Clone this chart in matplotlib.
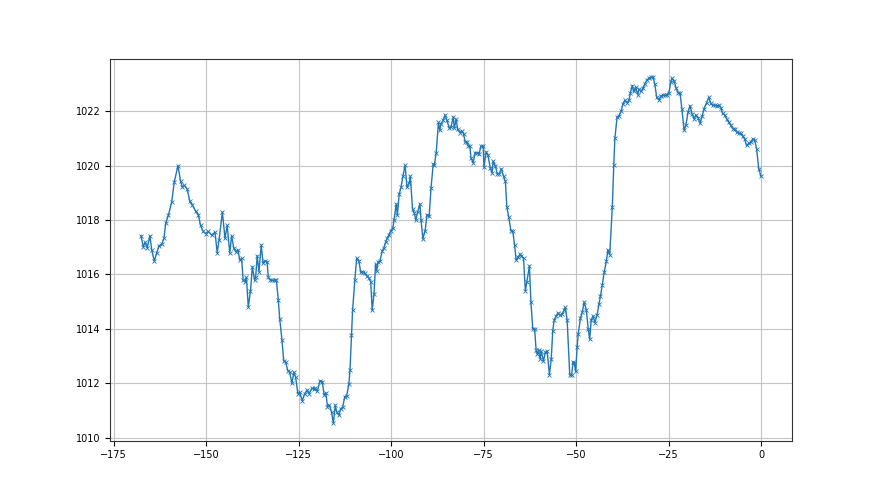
import matplotlib
matplotlib.use("Agg")
import matplotlib.pyplot as plt

# hours relative to now (negative = past)
hours = [
    -167.6, -167.0, -166.5, -165.9, -165.2, -164.7, -164.0, -163.4, -162.7, -162.0,
    -161.4, -160.9, -160.2, -159.3, -158.6, -157.6, -156.9, -156.4, -155.9, -155.1,
    -154.4, -153.7, -152.8, -152.1, -151.5, -150.8, -150.1, -149.4, -148.5, -147.6,
    -147.0, -146.5, -145.6, -144.9, -144.3, -143.6,
    -143.1, -142.5, -142.0, -141.4, -140.9, -140.4, -140.0, -139.5, -139.1, -138.6,
    -138.0, -137.5, -136.9, -136.6, -136.2, -135.7, -135.1, -134.6, -134.1, -133.5,
    -133.2, -132.6, -132.1, -131.5, -131.0, -130.5, -130.1, -129.5, -129.0, -128.5,
    -127.9, -127.4, -126.8, -126.3, -125.8, -125.2, -124.7, -124.0, -123.4, -122.7,
    -122.2, -121.4, -120.9,
    -120.6, -119.9, -119.2, -118.6, -118.1, -117.6, -117.2, -116.7, -116.1, -115.6,
    -115.1, -114.7, -114.1, -113.6, -113.1, -112.5, -112.0, -111.4, -111.1, -110.7,
    -110.4, -109.8, -109.3, -108.7, -108.2, -107.6, -107.1, -106.6, -106.0, -105.5,
    -105.1, -104.6, -104.2, -103.9, -103.5, -103.0, -102.4, -101.9, -101.5, -101.0,
    -100.6, -100.1, -99.5, -99.2, -98.6, -98.3, -97.8,
    -97.3, -96.8, -96.2, -95.7, -95.1, -94.8, -94.2, -93.7, -93.3, -92.8,
    -92.2, -91.9, -91.4, -90.8, -90.3, -89.7, -89.2, -88.6, -88.3, -87.8,
    -87.2, -86.8, -86.5, -85.9, -85.4, -84.9, -84.3, -83.8, -83.2, -82.9,
    -82.4, -82.0, -81.4, -80.9, -80.4, -80.0, -79.5, -79.1, -78.7, -78.4,
    -77.8, -77.3, -76.8, -76.2, -75.7, -75.1,
    -74.9, -74.3, -73.8, -73.2, -72.7, -72.4, -71.8, -71.3, -70.7, -70.2,
    -69.6, -69.1, -68.7, -68.2, -67.6, -67.1, -66.6, -66.2, -65.7, -65.1,
    -64.8, -64.2, -63.7, -63.3, -62.6, -62.2, -61.7, -61.2, -60.8, -60.5,
    -60.1, -59.7, -59.4, -58.8, -58.3, -57.8, -57.2, -56.7, -56.3, -55.9,
    -55.4, -54.9, -54.3, -53.8, -53.2, -52.9, -52.4,
    -51.7, -51.2, -50.8, -50.5, -50.1, -49.7, -49.4, -48.8, -48.3, -47.8,
    -47.2, -46.7, -46.3, -45.9, -45.4, -44.9, -44.3, -43.8, -43.4, -42.9,
    -42.4, -41.8, -41.4, -40.9, -40.2, -39.8, -39.5, -38.9, -38.4, -37.8,
    -37.3, -36.8, -36.2, -35.7, -35.3, -34.8, -34.4, -33.9, -33.3, -33.0,
    -32.4, -31.9, -31.4, -30.8, -30.3, -29.7, -29.2,
    -28.7, -28.2, -27.6, -27.1, -26.6, -26.0, -25.5, -24.9, -24.4, -24.1,
    -23.5, -23.0, -22.4, -21.9, -21.4, -20.8, -20.3, -19.7, -19.2, -18.6,
    -18.1, -17.6, -17.0, -16.5, -15.9, -15.4, -14.7, -14.1, -13.6, -13.1,
    -12.5, -12.0, -11.4, -10.9, -10.4, -9.8, -9.3, -8.7, -8.2, -7.6,
    -7.1, -6.6, -6.0, -5.5, -4.9, -4.4, -3.9, -3.3, -2.8, -2.2,
    -1.7, -1.2, -0.6, 0.0,
]

# pressure in hPa
pressure = [
    1017.43, 1017.02, 1017.18, 1016.99, 1017.42, 1016.90, 1016.49, 1016.78, 1017.06, 1017.11,
    1017.33, 1017.89, 1018.17, 1018.66, 1019.40, 1020.00, 1019.42, 1019.20, 1019.27, 1019.13,
    1018.68, 1018.54, 1018.32, 1018.19, 1017.80, 1017.58, 1017.50, 1017.58, 1017.45, 1017.55,
    1016.80, 1017.27, 1018.29, 1017.33, 1017.80, 1016.78,
    1017.42, 1016.96, 1016.84, 1016.90, 1016.53, 1016.59, 1015.79, 1015.73, 1015.89, 1014.81,
    1015.40, 1016.28, 1015.79, 1015.91, 1016.68, 1016.10, 1017.08, 1016.41, 1016.50, 1016.47,
    1015.89, 1015.79, 1015.79, 1015.79, 1015.79, 1015.08, 1014.38, 1013.60, 1012.82, 1012.78,
    1012.47, 1012.41, 1012.00, 1012.41, 1012.23, 1011.63, 1011.67, 1011.37, 1011.61, 1011.76,
    1011.63, 1011.82, 1011.80,
    1011.83, 1011.73, 1012.10, 1012.07, 1011.58, 1011.65, 1011.15, 1011.20, 1010.96, 1010.54,
    1011.20, 1010.96, 1010.84, 1011.08, 1011.12, 1011.52, 1011.55, 1011.98, 1012.51, 1013.79,
    1014.69, 1015.79, 1016.59, 1016.49, 1016.08, 1016.10, 1016.04, 1015.95, 1015.88, 1015.73,
    1014.69, 1015.30, 1016.37, 1016.13, 1016.47, 1016.49, 1016.86, 1016.99, 1017.18, 1017.35,
    1017.45, 1017.60, 1017.72, 1018.00, 1018.59, 1018.17, 1018.96,
    1019.20, 1019.61, 1020.01, 1019.20, 1019.36, 1019.61, 1018.41, 1018.25, 1018.00, 1018.31,
    1018.59, 1018.00, 1017.31, 1017.60, 1018.19, 1018.13, 1019.18, 1020.06, 1020.01, 1020.47,
    1021.58, 1021.29, 1021.54, 1021.66, 1021.86, 1021.66, 1021.39, 1021.41, 1021.78, 1021.37,
    1021.70, 1021.33, 1021.21, 1021.27, 1021.17, 1020.87, 1020.87, 1020.71, 1020.71, 1020.28,
    1020.10, 1020.47, 1020.47, 1020.43, 1020.71, 1020.71,
    1019.94, 1020.50, 1020.37, 1019.92, 1019.73, 1020.16, 1019.98, 1019.70, 1019.70, 1019.88,
    1019.61, 1019.42, 1018.48, 1018.11, 1017.61, 1017.58, 1017.08, 1016.53, 1016.63, 1016.75,
    1016.68, 1016.59, 1015.40, 1015.73, 1016.31, 1014.99, 1014.01, 1014.01, 1013.24, 1013.09,
    1013.21, 1012.90, 1013.18, 1012.82, 1013.15, 1013.18, 1012.32, 1012.90, 1013.92, 1014.34,
    1014.46, 1014.59, 1014.50, 1014.54, 1014.69, 1014.79, 1014.32,
    1012.31, 1012.31, 1012.80, 1012.76, 1012.44, 1013.33, 1013.83, 1014.40, 1014.62, 1014.99,
    1014.69, 1013.99, 1013.62, 1014.32, 1014.48, 1014.23, 1014.53, 1014.90, 1015.21, 1015.61,
    1016.08, 1016.49, 1016.90, 1016.72, 1018.46, 1020.01, 1021.00, 1021.78, 1021.82, 1022.00,
    1022.27, 1022.40, 1022.31, 1022.40, 1022.68, 1022.93, 1022.72, 1022.87, 1022.59, 1022.80,
    1022.72, 1022.84, 1023.01, 1023.14, 1023.21, 1023.24, 1023.26,
    1022.99, 1022.50, 1022.41, 1022.54, 1022.58, 1022.58, 1022.58, 1022.68, 1023.05, 1023.20,
    1023.11, 1022.86, 1022.66, 1022.68, 1022.09, 1021.30, 1021.48, 1021.97, 1022.19, 1021.88,
    1021.72, 1021.85, 1021.76, 1021.55, 1021.80, 1022.09, 1022.31, 1022.50, 1022.29, 1022.21,
    1022.21, 1022.19, 1022.21, 1022.13, 1021.92, 1021.85, 1021.72, 1021.58, 1021.48, 1021.35,
    1021.35, 1021.23, 1021.18, 1021.18, 1021.08, 1020.96, 1020.74, 1020.81, 1020.86, 1020.98,
    1020.93, 1020.62, 1019.88, 1019.61,
]

fig, ax = plt.subplots(figsize=(8.8, 4.95), dpi=100)

ax.plot(hours, pressure, color='#1f77b4', linewidth=1.0,
        marker='x', markersize=3.5, markeredgewidth=0.6)

ax.grid(True, color='#c4c4c4', linewidth=0.8)
ax.set_axisbelow(True)
ax.tick_params(axis='both', labelsize=7)
for spine in ax.spines.values():
    spine.set_color('#333333')

fig.savefig('out.png', dpi=100)
